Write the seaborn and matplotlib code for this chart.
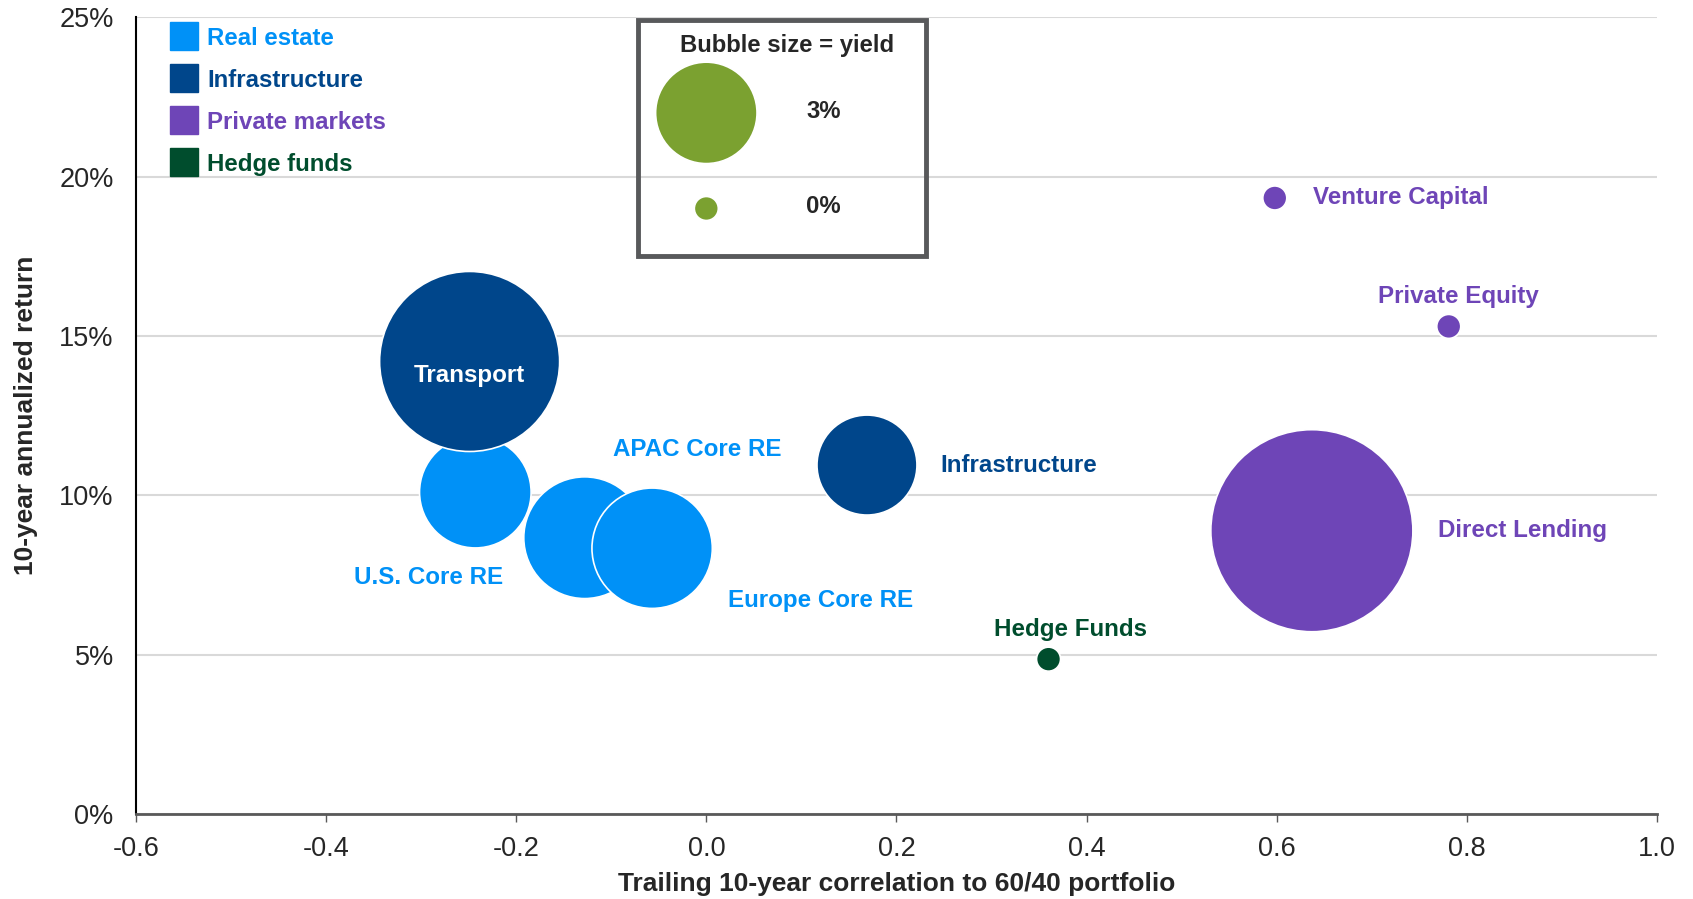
import numpy as np
import pandas as pd
import matplotlib
matplotlib.use('Agg')
import matplotlib.pyplot as plt
from matplotlib.lines import Line2D
from matplotlib.patches import Rectangle
from matplotlib.ticker import FuncFormatter
import seaborn as sns

# Datos
names = ['U.S. Core RE', 'Transport', 'APAC Core RE', 'Europe Core RE', 'Infrastructure',
         'Direct Lending', 'Hedge Funds', 'Venture Capital', 'Private Equity']
groups = ['Real estate', 'Infrastructure', 'Real estate', 'Real estate', 'Infrastructure',
          'Private markets', 'Hedge funds', 'Private markets', 'Private markets']
correlation = [-0.243, -0.249, -0.128, -0.057, 0.169, 0.637, 0.360, 0.598, 0.781]
ann_return = [10.1, 14.2, 8.67, 8.34, 10.95, 8.89, 4.86, 19.33, 15.3]
yield_pct = [3.67, 9.84, 4.4, 4.3, 2.91, 12.44, 0.0, 0.0, 0.0]

group_order = ['Real estate', 'Infrastructure', 'Private markets', 'Hedge funds']
group_colors = ['#0091F7', '#00468B', '#6E45B7', '#004D2D']

legend_yield = [3, 0]
legend_text = ['3%', '0%']

palette = dict(zip(group_order, group_colors))
df = pd.DataFrame({'name': names, 'group': groups, 'corr': correlation,
                   'ret': ann_return, 'yield': yield_pct})

sns.set_style('white')
plt.rcParams['font.family'] = ['Liberation Sans', 'DejaVu Sans']
plt.rcParams['axes.unicode_minus'] = False

fig = plt.figure(figsize=(16.93, 8.99), dpi=100)
ax = fig.add_axes([0.0803, 0.0945, 0.8984, 0.8863])

# area de la burbuja lineal con el yield (0% -> s0, 3% -> s3)
s0, s3 = 298.6, 5330.0
ymax = max(yield_pct)
sizes = (s0, s0 + (s3 - s0) / 3 * ymax)
sns.scatterplot(data=df, x='corr', y='ret', hue='group', palette=palette,
                size='yield', sizes=sizes, size_norm=(0, ymax),
                edgecolor='white', linewidth=1.2, alpha=1, legend=False, ax=ax, zorder=3)

# burbujas de la leyenda de tamano
leg_df = pd.DataFrame({'corr': [0.0, 0.0], 'ret': [22.0, 19.0], 'yield': legend_yield})
sns.scatterplot(data=leg_df, x='corr', y='ret', size='yield', sizes=sizes, size_norm=(0, ymax),
                color='#7BA130', edgecolor='white', linewidth=1.2, alpha=1,
                legend=False, ax=ax, zorder=3)

ax.set_xlim(-0.6, 1.0)
ax.set_ylim(0, 25)
ax.set_xticks(np.arange(-0.6, 1.01, 0.2))
ax.set_yticks(np.arange(0, 26, 5))
ax.xaxis.set_major_formatter(FuncFormatter(lambda v, p: '{:.1f}'.format(v)))
ax.yaxis.set_major_formatter(FuncFormatter(lambda v, p: '{:.0f}%'.format(v)))
ax.yaxis.grid(True, color='#D9D9D9', lw=1.5)
ax.xaxis.grid(False)
ax.set_axisbelow(True)
for s in ['top', 'right']:
    ax.spines[s].set_visible(False)
ax.spines['left'].set_color('black')
ax.spines['left'].set_linewidth(1.5)
ax.spines['bottom'].set_color('#595959')
ax.spines['bottom'].set_linewidth(2)
ax.tick_params(axis='x', direction='out', length=6, width=1, color='#595959',
               labelsize=19.5, pad=10, bottom=True)
ax.tick_params(axis='y', length=0, labelsize=19.5, pad=16)
ax.set_xlabel('Trailing 10-year correlation to 60/40 portfolio', fontsize=19,
              fontweight='bold', labelpad=7)
ax.set_ylabel('10-year annualized return', fontsize=19, fontweight='bold', labelpad=15)

# Etiquetas de cada burbuja
offsets = {'Transport': (0, -14, 'center'), 'U.S. Core RE': (-47, -85, 'center'),
           'APAC Core RE': (113, 88, 'center'), 'Europe Core RE': (168, -52, 'center'),
           'Infrastructure': (73, 0, 'left'), 'Direct Lending': (126, 0, 'left'),
           'Hedge Funds': (22, 30, 'center'), 'Venture Capital': (38, 0, 'left'),
           'Private Equity': (10, 30, 'center')}
for _, r in df.iterrows():
    dx, dy, ha = offsets[r['name']]
    col = 'white' if r['name'] == 'Transport' else palette[r['group']]
    ax.annotate(r['name'], xy=(r['corr'], r['ret']), xytext=(dx, dy),
                textcoords='offset pixels', ha=ha, va='center', color=col,
                fontsize=17.4, fontweight='bold', zorder=5)

# Leyenda de categorias
handles = [Line2D([], [], marker='s', linestyle='', markersize=20,
                  markerfacecolor=c, markeredgecolor=c) for c in group_colors]
leg = ax.legend(handles, group_order, loc='upper left', bbox_to_anchor=(0.024, 0.988),
                frameon=False, borderaxespad=0, borderpad=0, handlelength=1.0,
                handletextpad=0.45, labelspacing=0.79, labelcolor=group_colors,
                prop={'size': 17.3, 'weight': 'bold'})

# Caja de tamano de burbuja
ax.add_patch(Rectangle((0.330, 0.700), 0.1894, 0.297, transform=ax.transAxes,
                       fill=False, edgecolor='#58595B', lw=3.5, zorder=4, clip_on=False))
ax.text(0.085, 24.1, 'Bubble size = yield', ha='center', va='center',
        fontsize=17.2, fontweight='bold', zorder=5)
for t, yy in zip(legend_text, leg_df['ret']):
    ax.text(0.123, yy + 0.05, t, ha='center', va='center', fontsize=17.2,
            fontweight='bold', zorder=5)

fig.savefig('out.png', dpi=100)
